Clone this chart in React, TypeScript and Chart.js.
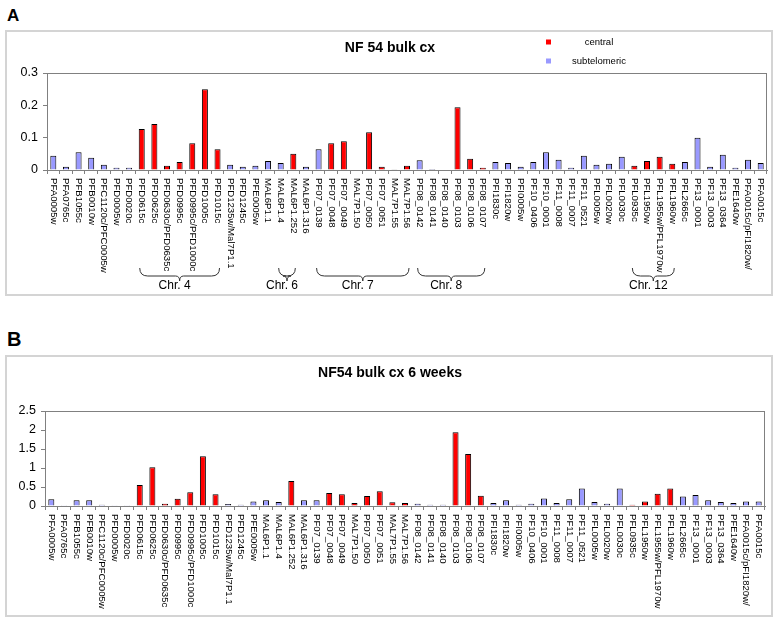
import React, { useEffect, useRef } from 'react';
import { Chart, registerables } from 'chart.js';

Chart.register(...registerables);

const FONT = '"Liberation Sans", Arial, Helvetica, sans-serif';

const categories = [
  'PFA0005w', 'PFA0765c', 'PFB1055c', 'PFB0010w', 'PFC1120c/PFC0005w', 'PFD0005w', 'PFD0020c',
  'PFD0615c', 'PFD0625c', 'PFD0630c/PFD0635c', 'PFD0995c', 'PFD0995c/PFD1000c', 'PFD1005c', 'PFD1015c',
  'PFD1235w/Mal7P1.1', 'PFD1245c', 'PFE0005w', 'MAL6P1.1', 'MAL6P1.4', 'MAL6P1.252', 'MAL6P1.316',
  'PF07_0139', 'PF07_0048', 'PF07_0049', 'MAL7P1.50', 'PF07_0050', 'PF07_0051', 'MAL7P1.55', 'MAL7P1.56',
  'PF08_0142', 'PF08_0141', 'PF08_0140', 'PF08_0103', 'PF08_0106', 'PF08_0107',
  'PFI1830c', 'PFI1820w', 'PFI0005w', 'PF10_0406', 'PF10_0001', 'PF11_0008', 'PF11_0007', 'PF11_0521',
  'PFL0005w', 'PFL0020w', 'PFL0030c', 'PFL0935c', 'PFL1950w', 'PFL1955w/PFL1970w', 'PFL1960w',
  'PFL2665c', 'PF13_0001', 'PF13_0003', 'PF13_0364', 'PFE1640w', 'PFA0015c/pFI1820w/', 'PFA0015c',
];

// C = central, S = subtelomeric
const categoryType = [
  'S', 'S', 'S', 'S', 'S', 'S', 'S',
  'C', 'C', 'C', 'C', 'C', 'C', 'C',
  'S', 'S', 'S', 'S', 'S', 'C', 'S',
  'S', 'C', 'C', 'C', 'C', 'C', 'C', 'C',
  'S', 'S', 'S', 'C', 'C', 'C',
  'S', 'S', 'S', 'S', 'S', 'S', 'S', 'S',
  'S', 'S', 'S', 'C', 'C', 'C', 'C',
  'S', 'S', 'S', 'S', 'S', 'S', 'S',
];

const valuesA = [
  0.044, 0.010, 0.055, 0.038, 0.016, 0.007, 0.007,
  0.127, 0.142, 0.013, 0.025, 0.083, 0.250, 0.064,
  0.016, 0.010, 0.013, 0.028, 0.022, 0.050, 0.010,
  0.064, 0.083, 0.089, 0, 0.117, 0.010, 0.002, 0.013,
  0.030, 0.003, 0, 0.194, 0.035, 0.007,
  0.025, 0.022, 0.010, 0.025, 0.055, 0.032, 0.007, 0.044,
  0.016, 0.019, 0.041, 0.013, 0.028, 0.041, 0.019,
  0.025, 0.100, 0.010, 0.047, 0.007, 0.032, 0.022,
];

const valuesB = [
  0.18, 0.02, 0.15, 0.15, 0.035, 0.02, 0.02,
  0.55, 1.02, 0.06, 0.19, 0.36, 1.31, 0.31,
  0.05, 0.035, 0.12, 0.15, 0.105, 0.66, 0.15,
  0.15, 0.34, 0.31, 0.08, 0.265, 0.39, 0.10, 0.08,
  0.06, 0.035, 0.035, 1.94, 1.37, 0.27,
  0.08, 0.15, 0.035, 0.06, 0.20, 0.08, 0.18, 0.46,
  0.105, 0.06, 0.46, 0.035, 0.12, 0.32, 0.46,
  0.25, 0.29, 0.15, 0.105, 0.08, 0.12, 0.12,
];

const seriesNames = ['central', 'subtelomeric'];
const titleA = 'NF 54 bulk cx';
const titleB = 'NF54 bulk cx 6 weeks';
const yMaxA = 0.3;
const yStepA = 0.1;
const yMaxB = 2.5;
const yStepB = 0.5;

const braceLabels = ['Chr. 4', 'Chr. 6', 'Chr. 7', 'Chr. 8', 'Chr. 12'];
const braceFrom = ['PFD0615c', 'MAL6P1.4', 'PF07_0139', 'PF08_0142', 'PFL0935c'];
const braceTo = ['PFD1015c', 'MAL6P1.252', 'MAL7P1.56', 'PF08_0107', 'PFL1960w'];

const RED = '#FF0000';
const BLUE = '#9999FF';
const AXIS = '#808080';

type PanelProps = {
  values: number[];
  title: string;
  yMax: number;
  yStep: number;
  top: number;
  height: number;
  area: { left: number; right: number; top: number; bottom: number };
  titleY: number;
  legend: boolean;
  braces: boolean;
  tickSize: number;
};

function Panel(p: PanelProps) {
  const ref = useRef<HTMLCanvasElement | null>(null);
  useEffect(() => {
    const canvas = ref.current;
    if (!canvas) return;
    const W = 779;
    const central = p.values.map((v, i) => (categoryType[i] === 'C' ? v : null));
    const subtel = p.values.map((v, i) => (categoryType[i] === 'S' ? v : null));

    const deco = {
      id: 'deco',
      afterDraw(chart: any) {
        const ctx = chart.ctx as CanvasRenderingContext2D;
        const a = chart.chartArea;
        const xs = chart.scales.x;
        ctx.save();
        // plot area border
        ctx.strokeStyle = AXIS;
        ctx.lineWidth = 1;
        ctx.strokeRect(Math.round(a.left) + 0.5, Math.round(a.top) + 0.5, Math.round(a.right - a.left) - 1, Math.round(a.bottom - a.top));
        // rotated category labels (top to bottom)
        ctx.fillStyle = '#000';
        ctx.font = `9.6px ${FONT}`;
        ctx.textAlign = 'left';
        ctx.textBaseline = 'middle';
        categories.forEach((c, i) => {
          const x = xs.getPixelForValue(i);
          ctx.save();
          ctx.translate(x, a.bottom + 8);
          ctx.rotate(Math.PI / 2);
          ctx.fillText(c, 0, 0);
          ctx.restore();
        });
        // title
        ctx.font = `bold 14px ${FONT}`;
        ctx.textAlign = 'center';
        ctx.fillText(p.title, 390, p.titleY);
        // legend
        if (p.legend) {
          const cols = [RED, BLUE];
          const ys = [42, 61];
          ctx.font = `9.5px ${FONT}`;
          seriesNames.forEach((n, k) => {
            ctx.fillStyle = cols[k];
            ctx.fillRect(546, ys[k] - 2.5, 5, 5);
            ctx.fillStyle = '#000';
            ctx.fillText(n, 599, ys[k]);
          });
        }
        // chromosome braces
        if (p.braces) {
          ctx.strokeStyle = '#333';
          ctx.lineWidth = 1;
          ctx.font = `12px ${FONT}`;
          ctx.fillStyle = '#000';
          braceLabels.forEach((lab, k) => {
            const x1 = xs.getPixelForValue(categories.indexOf(braceFrom[k])) - 2;
            const x2 = xs.getPixelForValue(categories.indexOf(braceTo[k])) + 2;
            const xm = (x1 + x2) / 2;
            const yTop = 268, yMid = 276, yTip = 281;
            const r = yMid - yTop;
            ctx.beginPath();
            ctx.moveTo(x1, yTop);
            ctx.quadraticCurveTo(x1, yMid, x1 + r, yMid);
            ctx.lineTo(xm - 4, yMid);
            ctx.quadraticCurveTo(xm, yMid, xm, yTip);
            ctx.quadraticCurveTo(xm, yMid, xm + 4, yMid);
            ctx.lineTo(x2 - r, yMid);
            ctx.quadraticCurveTo(x2, yMid, x2, yTop);
            ctx.stroke();
            ctx.textAlign = 'center';
            ctx.fillText(lab, xm - 5, 286);
          });
        }
        ctx.restore();
      },
    };

    const common = {
      borderColor: '#000',
      borderWidth: 1,
      grouped: false,
      barPercentage: 0.5,
      categoryPercentage: 0.95,
    };

    const chart = new Chart(canvas, {
      type: 'bar',
      data: {
        labels: categories,
        datasets: [
          { label: seriesNames[0], data: central, backgroundColor: RED, ...common },
          { label: seriesNames[1], data: subtel, backgroundColor: BLUE, ...common },
        ],
      } as any,
      options: {
        responsive: false,
        maintainAspectRatio: false,
        animation: false,
        layout: {
          padding: {
            left: 0,
            right: W - p.area.right,
            top: p.area.top,
            bottom: p.height - p.area.bottom - 4,
          },
        },
        plugins: {
          legend: { display: false },
          title: { display: false },
          tooltip: { enabled: false },
        },
        scales: {
          x: {
            type: 'category',
            offset: true,
            grid: { display: true, drawOnChartArea: false, offset: true, tickLength: 4, color: AXIS },
            border: { display: true, color: AXIS },
            ticks: { display: false },
            afterFit: (s: any) => {
              s.height = 4;
            },
          },
          y: {
            min: 0,
            max: p.yMax,
            ticks: {
              stepSize: p.yStep,
              color: '#000',
              padding: 5,
              font: { family: FONT, size: p.tickSize },
              callback: (v: any) => String(parseFloat(Number(v).toFixed(3))),
            },
            grid: { display: true, drawOnChartArea: false, tickLength: 4, color: AXIS },
            border: { display: true, color: AXIS },
            afterFit: (s: any) => {
              s.width = p.area.left;
            },
          },
        },
      } as any,
      plugins: [deco],
    });
    return () => chart.destroy();
  }, []);

  return (
    <canvas
      ref={ref}
      width={779}
      height={p.height}
      style={{ position: 'absolute', left: 0, top: p.top, width: 779, height: p.height }}
    />
  );
}

export default function App() {
  const box = (top: number, height: number) => ({
    position: 'absolute' as const,
    left: 5,
    top,
    width: 768,
    height,
    border: '2px solid #d4d4d4',
    boxSizing: 'border-box' as const,
  });
  const letter = (top: number, size: number) => ({
    position: 'absolute' as const,
    left: 7,
    top,
    fontFamily: FONT,
    fontWeight: 'bold' as const,
    fontSize: size,
    lineHeight: 1,
    color: '#000',
  });
  return (
    <div style={{ position: 'absolute', left: 0, top: 0, width: 779, height: 624, background: '#fff', overflow: 'hidden' }}>
      <div style={box(30, 266)} />
      <div style={box(355, 262)} />
      <div style={letter(7, 17)}>A</div>
      <div style={letter(329, 20)}>B</div>
      <Panel
        values={valuesA}
        title={titleA}
        yMax={yMaxA}
        yStep={yStepA}
        top={0}
        height={300}
        area={{ left: 47, right: 767, top: 73, bottom: 170 }}
        titleY={48}
        legend={true}
        braces={true}
        tickSize={12.5}
      />
      <Panel
        values={valuesB}
        title={titleB}
        yMax={yMaxB}
        yStep={yStepB}
        top={300}
        height={324}
        area={{ left: 45, right: 765, top: 111, bottom: 206 }}
        titleY={73}
        legend={false}
        braces={false}
        tickSize={12.5}
      />
    </div>
  );
}
